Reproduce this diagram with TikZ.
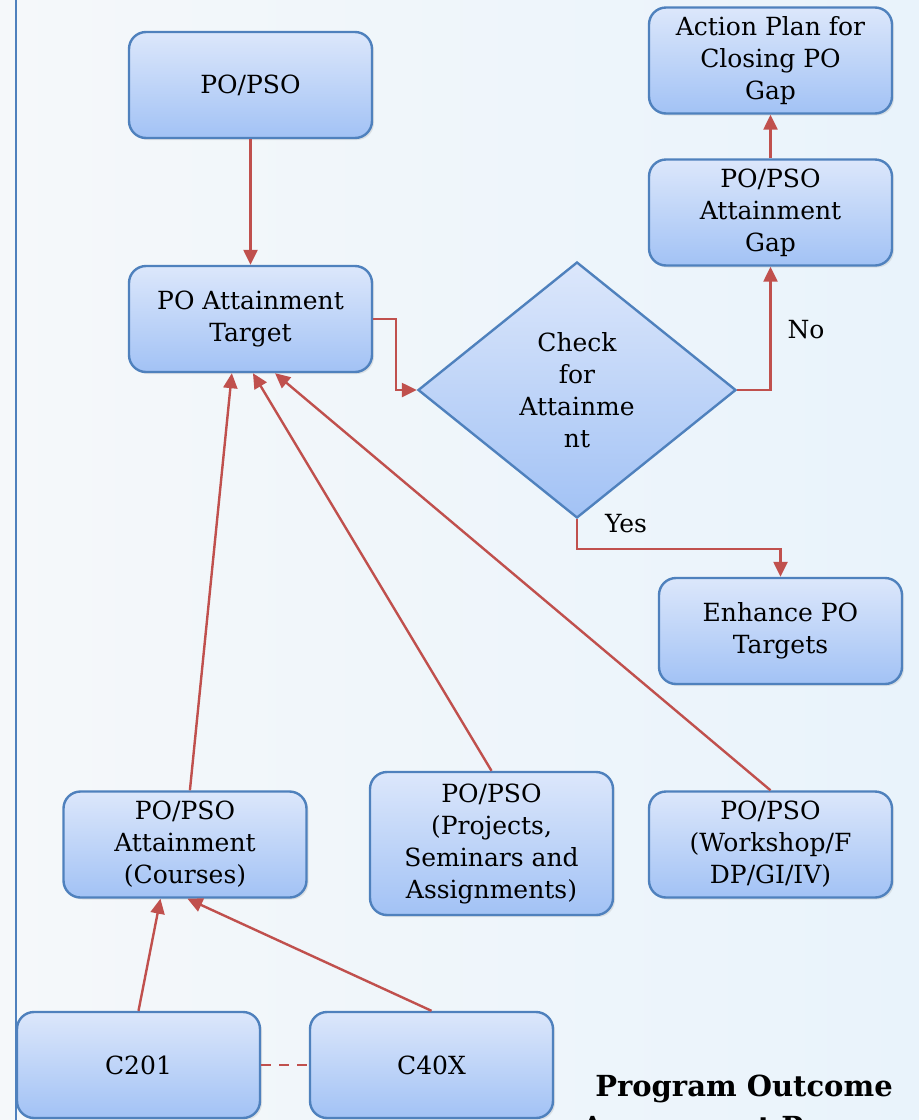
\documentclass[tikz,border=0pt]{standalone}
\usepackage{fontspec}
\setmainfont{DejaVu Serif}
\usetikzlibrary{arrows.meta,shapes.geometric,calc,shadows}
\definecolor{bgL}{HTML}{F5F8FA}
\definecolor{bgR}{HTML}{E9F3FB}
\definecolor{boxTop}{HTML}{DCE7FB}
\definecolor{boxBot}{HTML}{A2C2F5}
\definecolor{boxLine}{HTML}{4F81BD}
\definecolor{conn}{HTML}{C0504D}
\tikzset{
  flowbox/.style={draw=boxLine, line width=2.4pt, rounded corners=17pt,
    top color=boxTop, bottom color=boxBot, minimum width=243pt,
    minimum height=106pt, inner sep=0pt, align=center,
    font=\fontsize{25}{32}\selectfont,
    drop shadow={opacity=0.18, shadow xshift=2pt, shadow yshift=-2pt}},
  decide/.style={draw=boxLine, line width=2.4pt, shape=diamond,
    top color=boxTop, bottom color=boxBot, minimum width=318pt,
    minimum height=256pt, inner sep=0pt, align=center,
    font=\fontsize{25}{32}\selectfont},
  link/.style={draw=conn, line width=2.4pt, -{Triangle[length=15pt,width=14pt]}},
  plainlink/.style={draw=conn, line width=2.4pt},
  lbl/.style={font=\fontsize{25}{32}\selectfont, inner sep=0pt},
  titletext/.style={font=\fontsize{29}{41}\selectfont\bfseries, align=center, inner sep=0pt}
}
\begin{document}
\begin{tikzpicture}[x=1pt,y=-1pt]
\useasboundingbox (0,0) rectangle (919,1120);
\shade[left color=bgL, right color=bgR] (0,0) rectangle (919,1120);
\draw[boxLine, line width=2pt] (15.5,0) -- (15.5,1120);

\node[flowbox] (popso) at (250.5,85) {PO/PSO};
\node[flowbox] (target) at (250.5,319) {PO Attainment\\Target};
\node[flowbox] (action) at (770.5,60.5) {Action Plan for\\Closing PO\\Gap};
\node[flowbox] (gap) at (770.5,212.5) {PO/PSO\\Attainment\\Gap};
\node[decide] (check) at (577,390) {Check\\for\\Attainme\\nt};
\node[flowbox] (enhance) at (780.5,631) {Enhance PO\\Targets};
\node[flowbox] (courses) at (185,844.5) {PO/PSO\\Attainment\\(Courses)};
\node[flowbox, minimum height=143pt] (projects) at (491.5,843.5) {PO/PSO\\(Projects,\\Seminars and\\Assignments)};
\node[flowbox] (workshop) at (770.5,844.5) {PO/PSO\\(Workshop/F\\DP/GI/IV)};
\node[flowbox] (c201) at (138.5,1065) {C201};
\node[flowbox] (c40x) at (431.5,1065) {C40X};

\node[titletext, anchor=north] (title) at (744,1075) {Program Outcome\\Assessment Process};

\draw[link] (popso) -- (target);
\draw[link] (target.east) -- ++(23,0) |- (check.west);
\draw[link] (check.east) -| (gap.south);
\draw[link] (gap) -- (action);
\draw[link] (check.south) -- ++(0,30) -| (enhance.north);
\node[lbl] (nolbl) at (806,330) {No};
\node[lbl] (yeslbl) at (626,524) {Yes};

\draw[link] ($(courses.north west)!0.52!(courses.north east)$) -- ($(target.south west)!0.424!(target.south east)$);
\draw[link] (projects.north) -- ($(target.south west)!0.51!(target.south east)$);
\draw[link] (workshop.north) -- ($(target.south west)!0.60!(target.south east)$);
\draw[link] (c201.north) -- ($(courses.south west)!0.40!(courses.south east)$);
\draw[link] (c40x.north) -- ($(courses.south west)!0.51!(courses.south east)$);
\draw[plainlink, dash pattern=on 10pt off 8pt] (c201.east) -- (c40x.west);
\end{tikzpicture}
\end{document}
